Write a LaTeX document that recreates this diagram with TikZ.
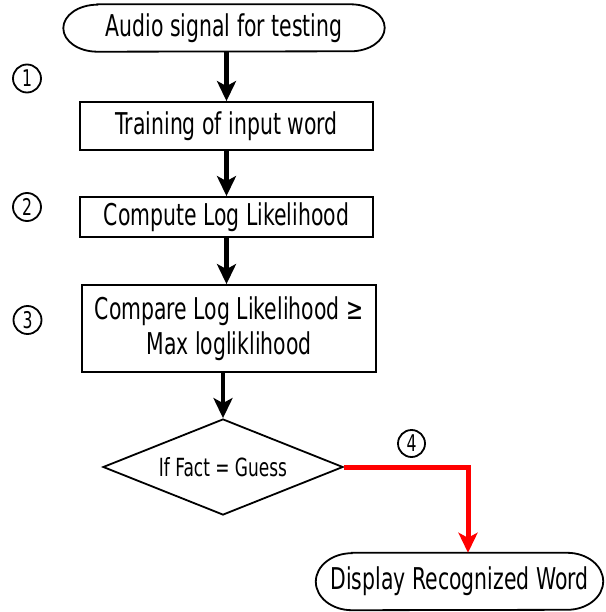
\documentclass[tikz,border=0pt]{standalone}
\usepackage{fontspec}
\setmainfont[FakeStretch=0.68]{DejaVu Sans}
\usetikzlibrary{arrows.meta,shapes.geometric}

% outline of a terminal block with elliptical ends
\newcommand{\termoutline}[3]{% node name, end x radius, end y radius
  \draw[line width=1.8pt]
    ([xshift=#2]#1.north west) -- ([xshift=-#2]#1.north east)
    arc[start angle=90, end angle=-90, x radius=#2, y radius=#3]
    -- ([xshift=#2]#1.south west)
    arc[start angle=270, end angle=90, x radius=#2, y radius=#3] -- cycle;}

\begin{document}
\begin{tikzpicture}[x=1pt,y=-1pt,
  every node/.style={inner sep=0pt, font=\fontsize{30}{35}\selectfont},
  terminal/.style={rectangle},
  procbox/.style={draw, line width=1.8pt, rectangle, align=center},
  decision/.style={draw, line width=1.8pt, diamond, aspect=2.5,
    font=\fontsize{25}{28}\selectfont},
  stepnum/.style={draw, circle, line width=1.8pt, minimum size=28pt,
    font=\fontsize{23}{25}\selectfont},
  flow/.style={line width=4.5pt, -{Stealth[length=20pt,width=19pt,inset=5pt]}},
  yesflow/.style={draw=red, line width=5pt, -{Stealth[length=20pt,width=19pt,inset=5pt]}}
]
\useasboundingbox (0,0) rectangle (605,612);

% flowchart blocks
\node[terminal, minimum width=321pt, minimum height=47pt] (start) at (224,28) {Audio signal for testing};
\termoutline{start}{34pt}{23.5pt}
\node[procbox, minimum width=293pt, minimum height=48pt] (train) at (226.5,126) {Training of input word};
\node[procbox, minimum width=293pt, minimum height=40pt] (loglik) at (226.5,217) {Compute Log Likelihood};
\node[procbox, minimum width=294pt, minimum height=87pt] (cmp) at (229,328.5) {Compare Log Likelihood ≥\\Max logliklihood};
\node[decision, minimum width=240pt, minimum height=96pt] (check) at (223,467) {If Fact = Guess};
\node[terminal, minimum width=287pt, minimum height=57pt] (show) at (459.5,581.5) {Display Recognized Word};
\termoutline{show}{36pt}{28.5pt}

% step markers
\node[stepnum] (n1) at (27,78.5) {1};
\node[stepnum] (n2) at (27,207) {2};
\node[stepnum] (n3) at (27.5,320) {3};
\node[stepnum, minimum size=27pt] (n4) at (411.5,443.5) {4};

% connectors
\draw[flow] (start.south -| train.north) -- (train.north);
\draw[flow] (train.south) -- (loglik.north);
\draw[flow] (loglik.south) -- (loglik.south |- cmp.north);
\draw[flow] (cmp.south -| check.north) -- (check.north);
\coordinate (turn) at (468,467);
\draw[yesflow] (check.east) -- (turn) -- (turn |- show.north);
\end{tikzpicture}
\end{document}
